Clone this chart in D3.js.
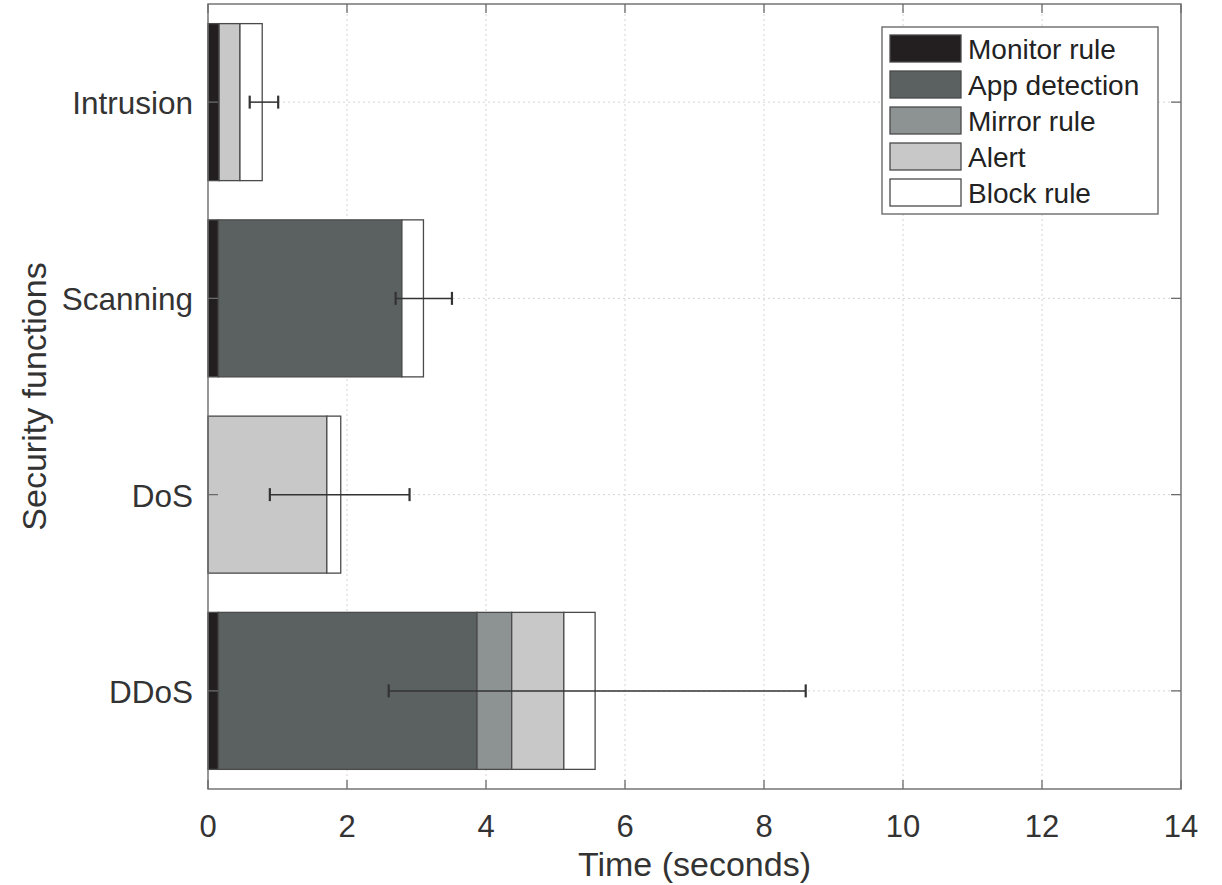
<!DOCTYPE html>
<html>
<head>
<meta charset="utf-8">
<script src="https://cdn.jsdelivr.net/npm/d3@7"></script>
<style>
  body { margin: 0; background: #fff; }
  svg { display: block; font-family: "Liberation Sans", Arial, Helvetica, sans-serif; }
</style>
</head>
<body>
<svg id="chart"></svg>
<script>
// ---- data ----
const categories = ['Intrusion', 'Scanning', 'DoS', 'DDoS'];
const seriesNames = ['Monitor rule', 'App detection', 'Mirror rule', 'Alert', 'Block rule'];
const monitorRule  = [0.16, 0.15, 0.00, 0.15];
const appDetection = [0.00, 2.64, 0.00, 3.72];
const mirrorRule   = [0.00, 0.00, 0.00, 0.50];
const alertTime    = [0.30, 0.00, 1.71, 0.75];
const blockRule    = [0.32, 0.31, 0.20, 0.45];
const errLow  = [0.60, 2.70, 0.89, 2.60];
const errHigh = [1.01, 3.51, 2.90, 8.60];
const xTicks = [0, 2, 4, 6, 8, 10, 12, 14];

const seriesColors = ['#231f20', '#5b6161', '#8d9393', '#c8c8c8', '#ffffff'];

const W = 1222, H = 885;
const margin = {top: 4, right: 41, bottom: 96, left: 208};

const svg = d3.select('#chart').attr('width', W).attr('height', H);

const x = d3.scaleLinear().domain([0, 14]).range([margin.left, W - margin.right]);
const y = d3.scaleBand().domain(categories)
  .range([margin.top, H - margin.bottom])
  .paddingInner(0.2).paddingOuter(0.1);

// table for the stack
const rows = categories.map((c, i) => ({
  cat: c,
  'Monitor rule': monitorRule[i],
  'App detection': appDetection[i],
  'Mirror rule': mirrorRule[i],
  'Alert': alertTime[i],
  'Block rule': blockRule[i]
}));
const stacked = d3.stack().keys(seriesNames)(rows);

// grid (dotted, behind the bars)
const gGrid = svg.append('g')
  .attr('stroke', '#d4d4d4').attr('stroke-width', 1).attr('stroke-dasharray', '2,3');
gGrid.selectAll('line.gx').data(xTicks.slice(1, -1)).join('line')
  .attr('x1', d => x(d)).attr('x2', d => x(d))
  .attr('y1', margin.top).attr('y2', H - margin.bottom);
gGrid.selectAll('line.gy').data(categories).join('line')
  .attr('x1', margin.left).attr('x2', W - margin.right)
  .attr('y1', d => y(d) + y.bandwidth() / 2).attr('y2', d => y(d) + y.bandwidth() / 2);

// bars
const gBars = svg.append('g');
stacked.forEach((layer, li) => {
  gBars.append('g')
    .attr('fill', seriesColors[li])
    .attr('stroke', '#4a4a4a').attr('stroke-width', 1.3)
    .selectAll('rect').data(layer.filter(d => d[1] - d[0] > 0)).join('rect')
    .attr('x', d => x(d[0]))
    .attr('width', d => x(d[1]) - x(d[0]))
    .attr('y', d => y(d.data.cat))
    .attr('height', y.bandwidth());
});

// error bars
const gErr = svg.append('g').attr('stroke', '#333').attr('stroke-width', 1.5);
categories.forEach((c, i) => {
  const cy = y(c) + y.bandwidth() / 2;
  gErr.append('line').attr('x1', x(errLow[i])).attr('x2', x(errHigh[i])).attr('y1', cy).attr('y2', cy);
  [errLow[i], errHigh[i]].forEach(v => {
    gErr.append('line').attr('x1', x(v)).attr('x2', x(v))
      .attr('y1', cy - 6.5).attr('y2', cy + 6.5).attr('stroke-width', 2.2);
  });
});

// frame and ticks
const axisColor = '#6b6b6b';
svg.append('rect')
  .attr('x', margin.left).attr('y', margin.top)
  .attr('width', x(14) - x(0)).attr('height', H - margin.bottom - margin.top)
  .attr('fill', 'none').attr('stroke', axisColor).attr('stroke-width', 1.4);

const gTicks = svg.append('g').attr('stroke', axisColor).attr('stroke-width', 1.3);
xTicks.forEach(t => {
  gTicks.append('line').attr('x1', x(t)).attr('x2', x(t))
    .attr('y1', H - margin.bottom).attr('y2', H - margin.bottom - 9);
  gTicks.append('line').attr('x1', x(t)).attr('x2', x(t))
    .attr('y1', margin.top).attr('y2', margin.top + 9);
});
categories.forEach(c => {
  const cy = y(c) + y.bandwidth() / 2;
  gTicks.append('line').attr('x1', margin.left).attr('x2', margin.left + 10).attr('y1', cy).attr('y2', cy);
  gTicks.append('line').attr('x1', W - margin.right).attr('x2', W - margin.right - 10).attr('y1', cy).attr('y2', cy);
});

// tick labels
svg.append('g').selectAll('text').data(xTicks).join('text')
  .attr('x', d => x(d)).attr('y', 837)
  .attr('text-anchor', 'middle').attr('font-size', 31).attr('fill', '#333')
  .text(d => d);

svg.append('g').selectAll('text').data(categories).join('text')
  .attr('x', 193).attr('y', d => y(d) + y.bandwidth() / 2 + 12)
  .attr('text-anchor', 'end').attr('font-size', 31.5).attr('fill', '#333')
  .text(d => d);

// axis titles
svg.append('text')
  .attr('x', (x(0) + x(14)) / 2).attr('y', 876)
  .attr('text-anchor', 'middle').attr('font-size', 34).attr('fill', '#333')
  .text('Time (seconds)');

svg.append('text')
  .attr('transform', `translate(46, ${(margin.top + H - margin.bottom) / 2}) rotate(-90)`)
  .attr('text-anchor', 'middle').attr('font-size', 34).attr('fill', '#333')
  .text('Security functions');

// legend
const leg = svg.append('g').attr('transform', 'translate(882, 27)');
leg.append('rect').attr('width', 276).attr('height', 187)
  .attr('fill', '#fff').attr('stroke', axisColor).attr('stroke-width', 1.4);
seriesNames.forEach((s, i) => {
  const ry = 8 + i * 36;
  leg.append('rect').attr('x', 8).attr('y', ry).attr('width', 71).attr('height', 27)
    .attr('fill', seriesColors[i]).attr('stroke', '#4a4a4a').attr('stroke-width', 1.3);
  leg.append('text').attr('x', 86).attr('y', ry + 24)
    .attr('font-size', 28).attr('fill', '#222').text(s);
});
</script>
</body>
</html>
